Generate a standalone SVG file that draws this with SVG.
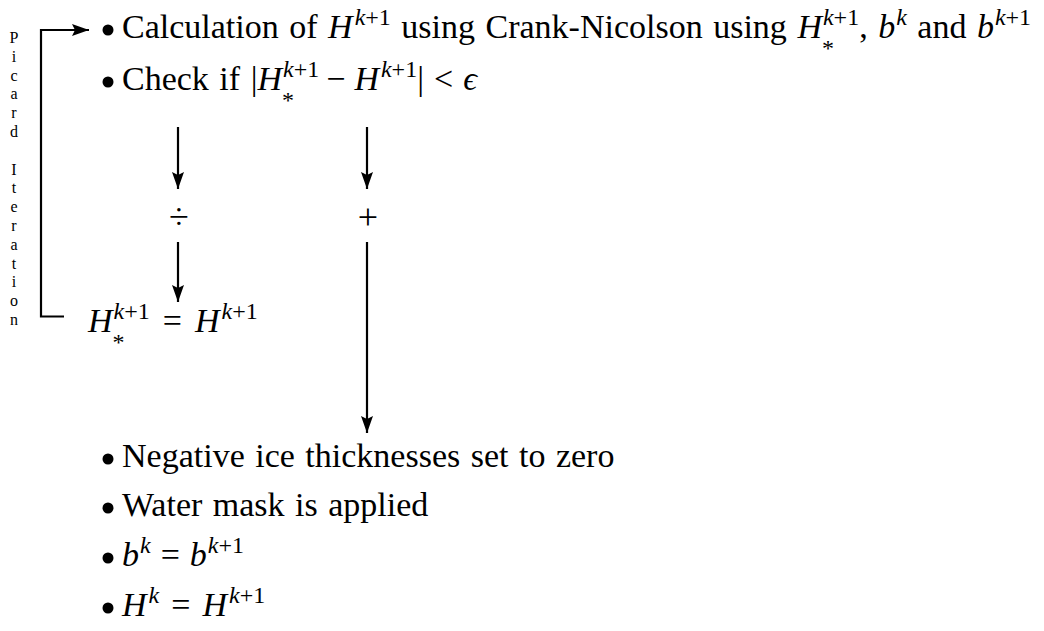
<svg xmlns="http://www.w3.org/2000/svg" width="1044" height="631" viewBox="0 0 1044 631">
<style>
text{font-family:"Liberation Serif","Times New Roman",serif;fill:#000}
.t{font-size:34px;word-spacing:2px}
.i{font-style:italic}
.s{font-size:24px}
.v{font-size:16px;text-anchor:middle}
.op{font-size:36px;text-anchor:middle}
.ln{stroke:#000;stroke-width:2.2;fill:none}
</style>
<defs>
<marker id="ah" viewBox="0 0 17 12" refX="17" refY="6" markerWidth="17" markerHeight="12" markerUnits="userSpaceOnUse" orient="auto">
<path d="M0,0 L17,6 L0,12 L3,6 Z" fill="#000"/>
</marker>
</defs>
<g id="connectors">
<path class="ln" d="M64,316.5 H41 V30 H89" marker-end="url(#ah)"/>
<line class="ln" x1="178" y1="127" x2="178" y2="189" marker-end="url(#ah)"/>
<line class="ln" x1="178" y1="242" x2="178" y2="302" marker-end="url(#ah)"/>
<line class="ln" x1="367" y1="127" x2="367" y2="189" marker-end="url(#ah)"/>
<line class="ln" x1="367" y1="242" x2="367" y2="433" marker-end="url(#ah)"/>
</g>
<g id="picard-label">
<text class="v" x="14" y="43">P<tspan x="14" dy="18.8">i</tspan><tspan x="14" dy="18.8">c</tspan><tspan x="14" dy="18.8">a</tspan><tspan x="14" dy="18.8">r</tspan><tspan x="14" dy="18.8">d</tspan><tspan x="14" dy="37.6">I</tspan><tspan x="14" dy="18.8">t</tspan><tspan x="14" dy="18.8">e</tspan><tspan x="14" dy="18.8">r</tspan><tspan x="14" dy="18.8">a</tspan><tspan x="14" dy="18.8">t</tspan><tspan x="14" dy="18.8">i</tspan><tspan x="14" dy="18.8">o</tspan><tspan x="14" dy="18.8">n</tspan></text>
</g>
<g id="top-list">
<circle cx="108" cy="30" r="5.5"/>
<text class="t" x="122" y="38">Calculation of <tspan class="i">H</tspan><tspan class="s" dx="2" dy="-13"><tspan class="i">k</tspan>+1</tspan><tspan dy="13"> using Crank-Nicolson using </tspan><tspan class="i">H</tspan><tspan class="s" dy="18">*</tspan><tspan class="s" dx="-11" dy="-31"><tspan class="i">k</tspan>+1</tspan><tspan dy="13">, </tspan><tspan class="i">b</tspan><tspan class="s i" dx="1" dy="-13">k</tspan><tspan dy="13"> and </tspan><tspan class="i">b</tspan><tspan class="s" dx="1" dy="-13"><tspan class="i">k</tspan>+1</tspan></text>
<circle cx="108" cy="82" r="5.5"/>
<text class="t" x="122" y="90">Check if |<tspan class="i">H</tspan><tspan class="s" dy="18">*</tspan><tspan class="s" dx="-11" dy="-31"><tspan class="i">k</tspan>+1</tspan><tspan dx="7" dy="13">−</tspan><tspan class="i" dx="9">H</tspan><tspan class="s" dx="2" dy="-13"><tspan class="i">k</tspan>+1</tspan><tspan dy="13">|</tspan><tspan dx="10">&lt;</tspan><tspan class="i" dx="10">ϵ</tspan></text>
</g>
<g id="div-op"><text class="op" x="179" y="229">÷</text></g>
<g id="plus-op"><text class="op" x="368" y="229">+</text></g>
<g id="update">
<text class="t" x="88" y="332"><tspan class="i">H</tspan><tspan class="s" dy="18">*</tspan><tspan class="s" dx="-11" dy="-31"><tspan class="i">k</tspan>+1</tspan><tspan dx="13" dy="13">=</tspan><tspan class="i" dx="13">H</tspan><tspan class="s" dx="2" dy="-13"><tspan class="i">k</tspan>+1</tspan></text>
</g>
<g id="bottom-list">
<circle cx="108" cy="459" r="5.5"/>
<text class="t" x="122" y="467">Negative ice thicknesses set to zero</text>
<circle cx="108" cy="508" r="5.5"/>
<text class="t" x="122" y="516">Water mask is applied</text>
<circle cx="108" cy="558" r="5.5"/>
<text class="t" x="122" y="566"><tspan class="i">b</tspan><tspan class="s i" dx="1" dy="-13">k</tspan><tspan dx="10" dy="13">=</tspan><tspan class="i" dx="10">b</tspan><tspan class="s" dx="1" dy="-13"><tspan class="i">k</tspan>+1</tspan></text>
<circle cx="108" cy="608" r="5.5"/>
<text class="t" x="122" y="616"><tspan class="i">H</tspan><tspan class="s i" dx="2" dy="-13">k</tspan><tspan dx="12" dy="13">=</tspan><tspan class="i" dx="12">H</tspan><tspan class="s" dx="2" dy="-13"><tspan class="i">k</tspan>+1</tspan></text>
</g>
</svg>
